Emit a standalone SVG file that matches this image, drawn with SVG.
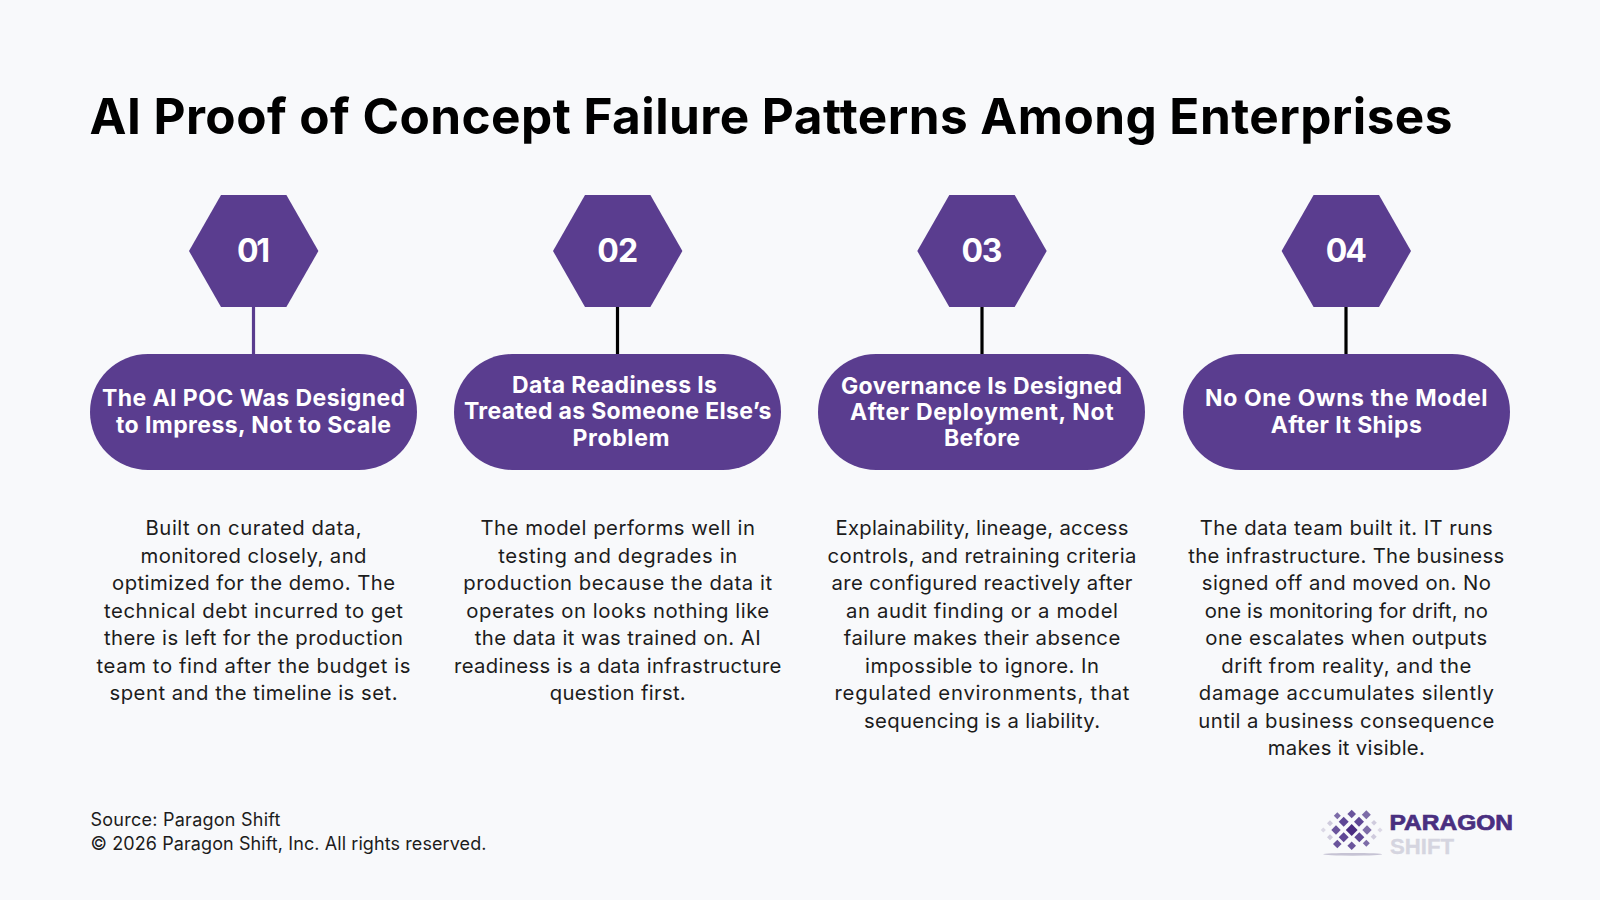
<svg xmlns="http://www.w3.org/2000/svg" width="1600" height="900" viewBox="0 0 1600 900">
<style>
text{font-family:Inter,"Liberation Sans",sans-serif}
.title{font-size:49.5px;font-weight:700;fill:#000}
.num{font-size:32px;font-weight:700;fill:#fff;text-anchor:middle}
.head{font-size:23px;font-weight:700;fill:#fff;text-anchor:middle}
.body{font-size:20.3px;font-weight:400;fill:#1c1c1c;text-anchor:middle}
.foot{font-size:18px;fill:#1c1c1c}
.hex,.pill{fill:#5a3d8f}
.conn{stroke:#000;stroke-width:3.2;fill:none}
.logo1{font-family:"Liberation Sans",Arial,sans-serif;font-size:21.5px;font-weight:700;fill:#4a2f80;stroke:#4a2f80;stroke-width:.7}
.logo2{font-family:"Liberation Sans",Arial,sans-serif;font-size:21.5px;font-weight:700;fill:#d5d5e0;stroke:#d5d5e0;stroke-width:.3}
.d1{fill:#4a2c82}.d2{fill:#5f4796}.d3{fill:#6a549c}.d4{fill:#7d6ca8}.d5{fill:#cfcbdd}.d6{fill:#dcd9e6}
</style>
<defs>
<polygon id="hexagon" class="hex" points="-32.7,-56 32.7,-56 64.7,0 32.7,56 -32.7,56 -64.7,0"/>
<polygon id="dia" points="0,-1 1,0 0,1 -1,0"/>
</defs>
<rect width="1600" height="900" fill="#f8f9fb"/>
<text class="title" x="89.5" y="133.5" textLength="1363">AI Proof of Concept Failure Patterns Among Enterprises</text>
<g id="connectors">
<line class="conn" x1="253.5" y1="306" x2="253.5" y2="355" style="stroke:#5a3d8f"/>
<line class="conn" x1="617.5" y1="306" x2="617.5" y2="355"/>
<line class="conn" x1="982" y1="306" x2="982" y2="355"/>
<line class="conn" x1="1346" y1="306" x2="1346" y2="355"/>
</g>
<g id="node-01">
<use href="#hexagon" x="253.7" y="251"/>
<text class="num" x="253.5" y="262" textLength="33">01</text>
<rect class="pill" x="90" y="354" width="327" height="116" rx="58"/>
<text class="head" x="253.5" y="406" textLength="303">The AI POC Was Designed</text>
<text class="head" x="253.5" y="432.7" textLength="275">to Impress, Not to Scale</text>
<g class="body-text">
<text class="body" x="253.5" y="535" textLength="216">Built on curated data,</text>
<text class="body" x="253.5" y="562.5" textLength="226">monitored closely, and</text>
<text class="body" x="253.5" y="590" textLength="283">optimized for the demo. The</text>
<text class="body" x="253.5" y="617.5" textLength="299">technical debt incurred to get</text>
<text class="body" x="253.5" y="645" textLength="299">there is left for the production</text>
<text class="body" x="253.5" y="672.5" textLength="314">team to find after the budget is</text>
<text class="body" x="253.5" y="700" textLength="288">spent and the timeline is set.</text>
</g>
</g>
<g id="node-02">
<use href="#hexagon" x="617.7" y="251"/>
<text class="num" x="617.7" y="262" textLength="41">02</text>
<rect class="pill" x="454" y="354" width="327" height="116" rx="58"/>
<text class="head" x="614.5" y="392.5" textLength="205">Data Readiness Is</text>
<text class="head" x="617.7" y="419" textLength="307.6">Treated as Someone Else’s</text>
<text class="head" x="621" y="445.8" textLength="97">Problem</text>
<g class="body-text">
<text class="body" x="617.7" y="535" textLength="274.5">The model performs well in</text>
<text class="body" x="617.7" y="562.5" textLength="239">testing and degrades in</text>
<text class="body" x="617.7" y="590" textLength="309">production because the data it</text>
<text class="body" x="617.7" y="617.5" textLength="303">operates on looks nothing like</text>
<text class="body" x="617.7" y="645" textLength="286">the data it was trained on. AI</text>
<text class="body" x="617.7" y="672.5" textLength="327.5">readiness is a data infrastructure</text>
<text class="body" x="617.7" y="700" textLength="136">question first.</text>
</g>
</g>
<g id="node-03">
<use href="#hexagon" x="982" y="251"/>
<text class="num" x="982" y="262" textLength="41">03</text>
<rect class="pill" x="818" y="354" width="327" height="116" rx="58"/>
<text class="head" x="981.5" y="393.5" textLength="281">Governance Is Designed</text>
<text class="head" x="981.8" y="419.5" textLength="263.6">After Deployment, Not</text>
<text class="head" x="982" y="445.8" textLength="76">Before</text>
<g class="body-text">
<text class="body" x="982" y="535" textLength="293">Explainability, lineage, access</text>
<text class="body" x="982" y="562.5" textLength="309">controls, and retraining criteria</text>
<text class="body" x="982" y="590" textLength="301">are configured reactively after</text>
<text class="body" x="982" y="617.5" textLength="272">an audit finding or a model</text>
<text class="body" x="982" y="645" textLength="276.5">failure makes their absence</text>
<text class="body" x="982" y="672.5" textLength="234">impossible to ignore. In</text>
<text class="body" x="982" y="700" textLength="295">regulated environments, that</text>
<text class="body" x="982" y="727.5" textLength="236">sequencing is a liability.</text>
</g>
</g>
<g id="node-04">
<use href="#hexagon" x="1346.3" y="251"/>
<text class="num" x="1346.3" y="262" textLength="41">04</text>
<rect class="pill" x="1183" y="354" width="327" height="116" rx="58"/>
<text class="head" x="1346.3" y="406" textLength="282.6">No One Owns the Model</text>
<text class="head" x="1346.3" y="432.7" textLength="151">After It Ships</text>
<g class="body-text">
<text class="body" x="1346.3" y="535" textLength="293">The data team built it. IT runs</text>
<text class="body" x="1346.3" y="562.5" textLength="316">the infrastructure. The business</text>
<text class="body" x="1346.3" y="590" textLength="289">signed off and moved on. No</text>
<text class="body" x="1346.3" y="617.5" textLength="283">one is monitoring for drift, no</text>
<text class="body" x="1346.3" y="645" textLength="282">one escalates when outputs</text>
<text class="body" x="1346.3" y="672.5" textLength="250">drift from reality, and the</text>
<text class="body" x="1346.3" y="700" textLength="295">damage accumulates silently</text>
<text class="body" x="1346.3" y="727.5" textLength="296">until a business consequence</text>
<text class="body" x="1346.3" y="755" textLength="157">makes it visible.</text>
</g>
</g>
<g id="footer">
<text class="foot" x="90.5" y="826" textLength="190">Source: Paragon Shift</text>
<text class="foot" x="90.5" y="850" textLength="396">© 2026 Paragon Shift, Inc. All rights reserved.</text>
</g>
<g id="logo">
<ellipse cx="1352.7" cy="854.3" rx="29.5" ry="1.4" fill="#c6c3d4"/>
<use href="#dia" class="d1" transform="translate(1351.7 830) scale(5.9)"/>
<use href="#dia" class="d2" transform="translate(1343.7 821.7) scale(5)"/>
<use href="#dia" class="d2" transform="translate(1359 821.7) scale(5)"/>
<use href="#dia" class="d2" transform="translate(1343.7 837.3) scale(5)"/>
<use href="#dia" class="d2" transform="translate(1359.3 837.3) scale(5)"/>
<use href="#dia" class="d3" transform="translate(1336 830) scale(4.7)"/>
<use href="#dia" class="d4" transform="translate(1367 830) scale(4.7)"/>
<use href="#dia" class="d4" transform="translate(1337.3 815.7) scale(3.5)"/>
<use href="#dia" class="d3" transform="translate(1351.7 814) scale(4.3)"/>
<use href="#dia" class="d4" transform="translate(1366.3 814.7) scale(4.5)"/>
<use href="#dia" class="d3" transform="translate(1337.3 844) scale(4.3)"/>
<use href="#dia" class="d3" transform="translate(1351.7 845.7) scale(4.3)"/>
<use href="#dia" class="d4" transform="translate(1366.3 843.3) scale(3.5)"/>
<use href="#dia" class="d5" transform="translate(1330 823.3) scale(3)"/>
<use href="#dia" class="d5" transform="translate(1374 822.7) scale(2.8)"/>
<use href="#dia" class="d5" transform="translate(1330 837.3) scale(3)"/>
<use href="#dia" class="d5" transform="translate(1373.7 836.7) scale(3)"/>
<use href="#dia" class="d6" transform="translate(1323.3 830) scale(2.6)"/>
<use href="#dia" class="d6" transform="translate(1380 830) scale(2.6)"/>
<text class="logo1" x="1389.5" y="829.5" textLength="123.5" lengthAdjust="spacingAndGlyphs">PARAGON</text>
<text class="logo2" x="1390" y="853.5" textLength="64" lengthAdjust="spacingAndGlyphs">SHIFT</text>
</g>
</svg>
